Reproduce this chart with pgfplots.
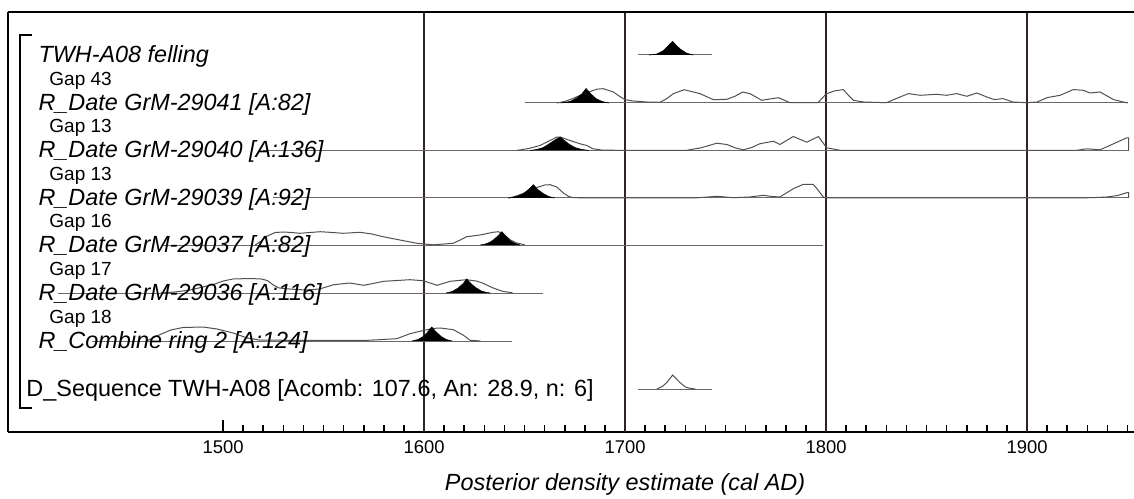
\documentclass[border=0pt]{standalone}
\usepackage{pgfplots}
\pgfplotsset{compat=1.18}
\usepackage{fontspec}
\setmainfont{Liberation Sans}
\definecolor{gridc}{HTML}{2E2424}
\definecolor{basec}{HTML}{6E6868}
\definecolor{outc}{HTML}{555050}
\newcommand\rowfont{\fontsize{11.7}{14}\selectfont\itshape}
\newcommand\gapfont{\fontsize{9.5}{11}\selectfont}
\begin{document}
\begin{tikzpicture}
\path[use as bounding box] (-4pt,-33pt) rectangle (563pt,216pt);
\begin{axis}[
  scale only axis, width=563pt, height=210pt,
  xmin=1393, xmax=1953.2, ymin=0, ymax=420,
  axis lines=left, axis line style={-, line width=1.2pt, black},
  xtick={1500,1600,1700,1800,1900},
  minor xtick={1510,1520,1530,1540,1550,1560,1570,1580,1590,1610,1620,1630,1640,1650,1660,1670,1680,1690,1710,1720,1730,1740,1750,1760,1770,1780,1790,1810,1820,1830,1840,1850,1860,1870,1880,1890,1910,1920,1930,1940,1950},
  xtick align=inside,
  major tick length=6pt, minor tick length=3.5pt,
  major tick style={line width=1.1pt, black},
  minor tick style={line width=0.8pt, black},
  ytick=\empty,
  xticklabel style={anchor=base, yshift=-10.5pt, font=\fontsize{9.2}{10}\selectfont},
  /pgf/number format/1000 sep={},
  /pgf/number format/assume math mode=true,
  xlabel={Posterior density estimate (cal AD)},
  xlabel style={at={(axis description cs:0.548,0)}, anchor=base, yshift=-29pt, font=\fontsize{11.7}{14}\selectfont\itshape},
  clip=false,
  base/.style={basec, line width=0.5pt},
  outl/.style={outc, line width=0.5pt},
  filled/.style={fill=black, draw=black, line width=0.3pt},
]
% grid lines
\pgfplotsinvokeforeach{1600,1700,1800,1900}{\draw[gridc, line width=1pt] (axis cs:#1,0) -- (axis cs:#1,420);}
\draw[black, line width=1.2pt] (rel axis cs:0,1) -- (rel axis cs:1,1);

% ---------- TWH-A08 felling (y=377)
\addplot[base] coordinates {(1706.6,377) (1743.4,377)};
\addplot[filled] table[y expr=\thisrow{h}+377] {
x h
1712 0
1715.8 1
1719.1 4.3
1720.7 7.7
1722.3 11
1723.7 13.6
1725.3 10
1727.4 6
1730.7 1.7
1734 0
};

% ---------- GrM-29041 (y=329)
\addplot[base] coordinates {(1650,329) (1950,329)};
\addplot[outl] table[y expr=\thisrow{h}+329] {
x h
1666 0
1670 1.5
1674 4.5
1678 8
1682 11
1686 13.8
1689.2 14.3
1694.2 11
1697 7
1700 3.3
1704 2
1710.8 1
1717.4 0.7
1720.7 4.3
1724 9.3
1729.4 13.3
1734 11
1737.3 9.3
1744 3.3
1750.6 3.7
1755 7
1758.5 11
1762.2 9.3
1768 2.7
1772 4
1776.3 5.3
1779 3
1782 0.3
1796 0.3
1800 9
1804 12
1808.6 13.4
1811 8
1813.6 2.7
1818.6 1
1830 0.3
1836.8 6
1841 9.4
1846.8 7.7
1855 8.7
1860 7.7
1865 9.4
1870 6.7
1875 10
1880 6
1883.7 3.4
1888 4.4
1893 1
1900 0.3
1905 1
1910 5.4
1916.4 7.7
1923 13.4
1928 12.7
1931.3 10
1936.3 11
1943 3.4
1950 0
};
\addplot[filled] table[y expr=\thisrow{h}+329] {
x h
1668 0
1672.6 1.5
1676 5
1678.5 9
1680.6 14.5
1683 9
1685.6 4.3
1688 2
1690 0.7
1692 0
};

% ---------- GrM-29040 (y=281.5)
\addplot[base] coordinates {(1520,281.5) (1950.5,281.5)};
\addplot[outl] table[y expr=\thisrow{h}+281.5] {
x h
1646 0
1652 2
1657.7 5
1662.7 10
1666 13.5
1668 13.3
1672.6 10
1677.6 6.7
1681 5
1684 1.7
1689 0.3
1700 0.2
1730.7 0.2
1737.8 2.7
1745.6 7.3
1750.6 6
1755 2.5
1758.9 0.7
1763 3
1767 6.7
1773.8 9.3
1777 6
1783.7 14
1790.4 8.3
1796.2 14
1800.3 2.7
1807 0.2
1924.7 0.2
1929.7 1.7
1936.3 0.7
1943 6.7
1949.6 12.7
1950.5 12.7
1950.5 0
};
\addplot[filled] table[y expr=\thisrow{h}+281.5] {
x h
1652.7 0
1656 1
1659 2.7
1661 5
1663.5 8.3
1665.5 11
1667.7 13.5
1669.5 10.5
1672 6.5
1675 3
1678 1.2
1682 0
};

% ---------- GrM-29039 (y=234)
\addplot[base] coordinates {(1525,234) (1950.5,234)};
\addplot[outl] table[y expr=\thisrow{h}+234] {
x h
1642 0
1644.4 1
1648 3.5
1651 6
1654 9
1657.7 11.5
1660 13
1662.7 13.3
1666 11
1669.3 5
1672 1.5
1674.3 0.3
1684 0.1
1735 0.1
1740 0.8
1745.6 1.7
1750 1
1753.9 0.3
1762 1
1768.8 2.7
1773 1.5
1777 1
1783.7 9.3
1788.7 13.7
1793.6 13.7
1796 8
1798.6 1
1800 0.1
1928 0.1
1934 0.5
1939.6 1
1945 2.5
1949.6 5.3
1950.5 5.3
1950.5 0
};
\addplot[filled] table[y expr=\thisrow{h}+234] {
x h
1642 0
1646 1.5
1649.4 4.3
1652 8.5
1654.4 13.3
1656.5 8.5
1659.4 4.3
1662 1.5
1665 0
};

% ---------- GrM-29037 (y=187)
\addplot[base] coordinates {(1470,187) (1798.4,187)};
\addplot[outl] table[y expr=\thisrow{h}+187] {
x h
1516 0
1519 4
1522 9
1526 12.5
1530 13
1534 12.5
1538.3 11.7
1548.3 13.3
1553 12.7
1559.7 11.7
1568.2 12.7
1574 11
1579.6 8.3
1588 5
1596.4 1.7
1604.5 0.2
1614.4 1.7
1618 5
1621.2 8.3
1627.9 10
1634.3 12.7
1637 13.3
1640 10
1643 5
1646 2
1650 0.3
};
\addplot[filled] table[y expr=\thisrow{h}+187] {
x h
1628 0
1630.3 0.8
1632.5 2.5
1634.5 5
1636.7 9
1638.7 13.3
1640.8 8.5
1642.8 4.3
1645 1.8
1647.8 0
};

% ---------- GrM-29036 (y=139)
\addplot[base] coordinates {(1418,139) (1659,139)};
\addplot[outl] table[y expr=\thisrow{h}+139] {
x h
1469 0
1476 1
1483.6 3
1490 6
1496 9
1500 12
1505 14
1513.4 14.5
1519 14
1522 12.5
1525 8
1528 5
1533 4
1541 3
1548 4
1555 8.3
1563 10
1570 7.7
1580 11.7
1593 13.3
1599.5 12.3
1606.5 7.7
1613 11.7
1621 13.3
1626 12
1629 10
1634 5.3
1639 1.7
1644 0.2
};
\addplot[filled] table[y expr=\thisrow{h}+139] {
x h
1611 0
1614 1.5
1617 5
1619.5 9.5
1621.2 14
1623.5 9
1626 5
1628.5 2
1631 0.5
1633 0
};

% ---------- Combine ring 2 (y=91)
\addplot[base] coordinates {(1435,91) (1643.6,91)};
\addplot[outl] table[y expr=\thisrow{h}+91] {
x h
1462 0
1467 5
1474 11
1480 13.5
1490 14
1497 12
1505 8
1512 3
1518 1
1540 0.5
1572 0.7
1586.4 2.3
1593 7.3
1598 9.7
1604 12.5
1608 13
1614.6 11.3
1619.6 5.7
1623 0.7
1628 0
};
\addplot[filled] table[y expr=\thisrow{h}+91] {
x h
1594 0
1597 1.5
1600 5
1602 9.5
1603.8 14
1606 9
1608.5 4.5
1611 1.5
1614 0
};

% ---------- D_Sequence (y=43)
\addplot[base] coordinates {(1706.6,43) (1743.4,43)};
\addplot[outl] table[y expr=\thisrow{h}+43] {
x h
1715.8 0
1718.5 2.5
1720.7 6.3
1723.7 14
1727.4 6.3
1730 2
1732.3 0.7
1735 0
};

% ---------- labels
\draw[black, line width=1pt] (axis cs:1405,397) -- (axis cs:1399,397) -- (axis cs:1399,24) -- (axis cs:1405,24);
\node[anchor=base west, inner sep=0, font=\rowfont] at (axis cs:1408,369.5) {TWH-A08 felling};
\node[anchor=base west, inner sep=0, font=\gapfont] at (axis cs:1413.4,346.5) {Gap 43};
\node[anchor=base west, inner sep=0, font=\rowfont] at (axis cs:1408,321.5) {R\_Date GrM-29041 [A:82]};
\node[anchor=base west, inner sep=0, font=\gapfont] at (axis cs:1413.4,299) {Gap 13};
\node[anchor=base west, inner sep=0, font=\rowfont] at (axis cs:1408,274) {R\_Date GrM-29040 [A:136]};
\node[anchor=base west, inner sep=0, font=\gapfont] at (axis cs:1413.4,251.5) {Gap 13};
\node[anchor=base west, inner sep=0, font=\rowfont] at (axis cs:1408,226.5) {R\_Date GrM-29039 [A:92]};
\node[anchor=base west, inner sep=0, font=\gapfont] at (axis cs:1413.4,204.5) {Gap 16};
\node[anchor=base west, inner sep=0, font=\rowfont] at (axis cs:1408,179.5) {R\_Date GrM-29037 [A:82]};
\node[anchor=base west, inner sep=0, font=\gapfont] at (axis cs:1413.4,156.5) {Gap 17};
\node[anchor=base west, inner sep=0, font=\rowfont] at (axis cs:1408,131.5) {R\_Date GrM-29036 [A:116]};
\node[anchor=base west, inner sep=0, font=\gapfont] at (axis cs:1413.4,108.5) {Gap 18};
\node[anchor=base west, inner sep=0, font=\rowfont] at (axis cs:1408,83.5) {R\_Combine ring 2 [A:124]};
\node[anchor=base west, inner sep=0, font=\fontsize{11.7}{14}\selectfont] at (axis cs:1402,35.5) {D\_Sequence TWH-A08 [Acomb: 107.6, An: 28.9, n: 6]};
\end{axis}
\end{tikzpicture}
\end{document}
